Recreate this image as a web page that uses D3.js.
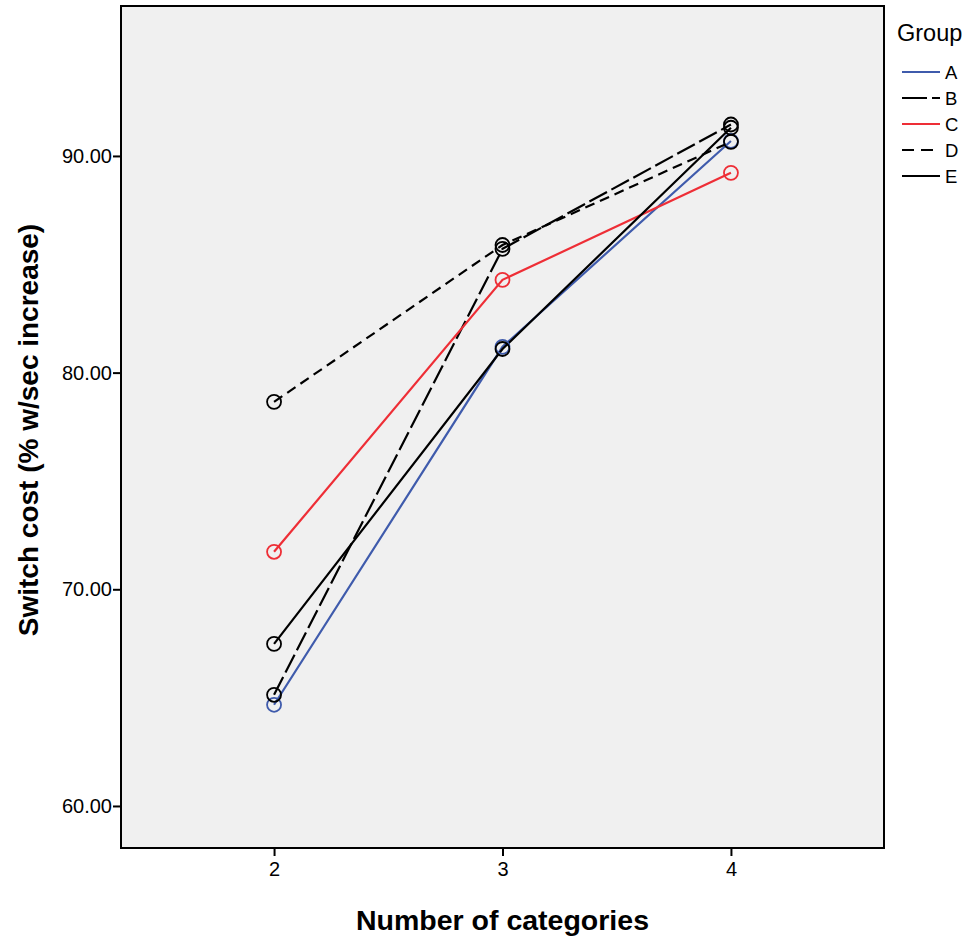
<!DOCTYPE html>
<html>
<head>
<meta charset="utf-8">
<script src="https://cdn.jsdelivr.net/npm/d3@7"></script>
<style>
  body { margin: 0; background: #fff; }
  text { font-family: "Liberation Sans", Arial, sans-serif; }
</style>
</head>
<body>
<script>
const w = 970, h = 939;
const plot = {left: 121, right: 884, top: 6, bottom: 848};

// data
const categories = [2, 3, 4];
const groups = ["A", "B", "C", "D", "E"];
const groupA = [64.67, 81.19, 90.69];
const groupB = [65.13, 85.71, 91.45];
const groupC = [71.73, 84.28, 89.22];
const groupD = [78.65, 85.89, 90.65];
const groupE = [67.48, 81.09, 91.3];
const yTicks = [60, 70, 80, 90];

const series = [
  {name: "A", values: groupA, color: "#3f5bac", dash: null},
  {name: "B", values: groupB, color: "#000", dash: "20,5"},
  {name: "C", values: groupC, color: "#ee2e36", dash: null},
  {name: "D", values: groupD, color: "#000", dash: "10,6"},
  {name: "E", values: groupE, color: "#000", dash: null}
];

const svg = d3.select("body")
  .append("svg")
  .attr("width", w)
  .attr("height", h);

const xScale = d3.scaleLinear()
  .domain([1.33, 4.67])
  .range([plot.left, plot.right]);
const yScale = d3.scaleLinear()
  .domain([58.06, 96.92])
  .range([plot.bottom, plot.top]);

// plot background
svg.append("rect")
  .attr("x", plot.left)
  .attr("y", plot.top)
  .attr("width", plot.right - plot.left)
  .attr("height", plot.bottom - plot.top)
  .attr("fill", "#f0f0f0")
  .attr("stroke", "#000")
  .attr("stroke-width", 2);

// axes
const xAxis = d3.axisBottom(xScale).tickValues(categories).tickSize(8).tickPadding(6).tickFormat(d3.format("d"));
const yAxis = d3.axisLeft(yScale).tickValues(yTicks).tickSize(8).tickPadding(1).tickFormat(d3.format(".2f"));

const gx = svg.append("g")
  .attr("transform", "translate(0," + plot.bottom + ")")
  .call(xAxis);
const gy = svg.append("g")
  .attr("transform", "translate(" + plot.left + ",0)")
  .call(yAxis);
[gx, gy].forEach(g => {
  g.select(".domain").remove();
  g.selectAll("line").attr("stroke", "#000").attr("stroke-width", 2);
  g.selectAll("text").attr("font-size", 20).attr("fill", "#000")
    .style("font-family", "'Liberation Sans', Arial, sans-serif");
});

// lines
const line = d3.line()
  .x((d, i) => xScale(categories[i]))
  .y(d => yScale(d));

series.forEach(s => {
  svg.append("path")
    .datum(s.values)
    .attr("d", line)
    .attr("fill", "none")
    .attr("stroke", s.color)
    .attr("stroke-width", 2.2)
    .attr("stroke-dasharray", s.dash);
});

series.forEach(s => {
  svg.selectAll(null)
    .data(s.values)
    .enter()
    .append("circle")
    .attr("cx", (d, i) => xScale(categories[i]))
    .attr("cy", d => yScale(d))
    .attr("r", 7)
    .attr("fill", "none")
    .attr("stroke", s.color)
    .attr("stroke-width", 1.8);
});

// axis titles
svg.append("text")
  .attr("x", (plot.left + plot.right) / 2)
  .attr("y", 930)
  .attr("text-anchor", "middle")
  .attr("font-size", 28.5)
  .attr("font-weight", "bold")
  .text("Number of categories");

svg.append("text")
  .attr("transform", "translate(38,430) rotate(-90)")
  .attr("text-anchor", "middle")
  .attr("font-size", 28)
  .attr("font-weight", "bold")
  .text("Switch cost (% w/sec increase)");

// legend
const legend = svg.append("g");
legend.append("text")
  .attr("x", 897)
  .attr("y", 41)
  .attr("font-size", 23.5)
  .text("Group");

const legendY = d3.scalePoint().domain(groups).range([72, 176]);
series.forEach(s => {
  const y = legendY(s.name);
  legend.append("line")
    .attr("x1", 902).attr("x2", 940)
    .attr("y1", y).attr("y2", y)
    .attr("stroke", s.color)
    .attr("stroke-width", 2.2)
    .attr("stroke-dasharray", s.name === "B" ? "25,5" : (s.name === "D" ? "12,7" : null));
  legend.append("text")
    .attr("x", 945)
    .attr("y", y + 7)
    .attr("font-size", 18.5)
    .text(s.name);
});
</script>
</body>
</html>
